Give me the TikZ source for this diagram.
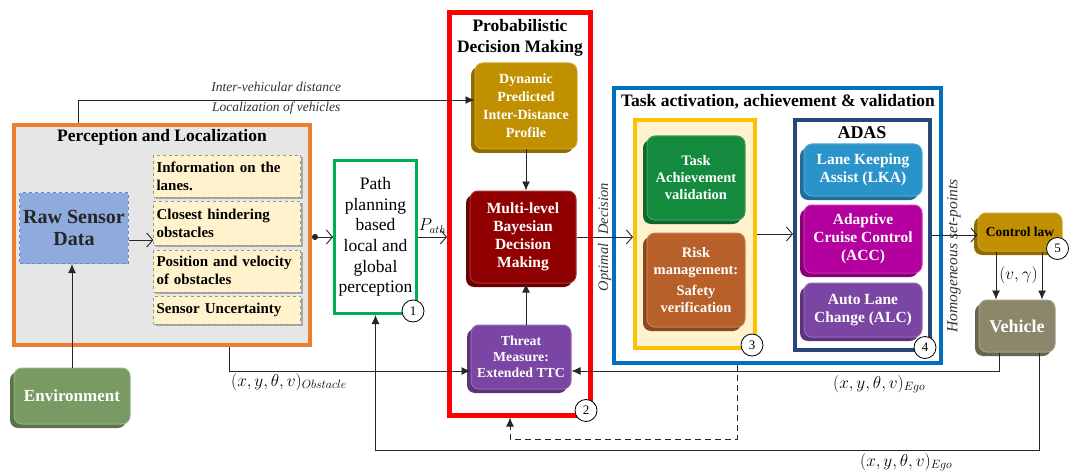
\documentclass[tikz,border=0pt]{standalone}
\usepackage{fontspec}
\setmainfont{Liberation Serif}
\usepackage{tikz}
\usetikzlibrary{arrows, arrows.meta, positioning, shadows, calc}

\definecolor{percorange}{HTML}{ED7D31}
\definecolor{percgray}{HTML}{E6E6E6}
\definecolor{rawblue}{HTML}{8FAADC}
\definecolor{rawedge}{HTML}{5B8BD0}
\definecolor{itemyellow}{HTML}{FFF2CC}
\definecolor{itemedge}{HTML}{9C9A7A}
\definecolor{pathgreen}{HTML}{00B050}
\definecolor{dyngold}{HTML}{C09000}
\definecolor{multired}{HTML}{900000}
\definecolor{threatpurple}{HTML}{7B45A3}
\definecolor{bluebox}{HTML}{0070C0}
\definecolor{taskyellow}{HTML}{FFC000}
\definecolor{taskgreen}{HTML}{138A3E}
\definecolor{riskbrown}{HTML}{B8602A}
\definecolor{adasblue}{HTML}{27477A}
\definecolor{lkablue}{HTML}{2A93C9}
\definecolor{accmag}{HTML}{B4009E}
\definecolor{vehkhaki}{HTML}{8C876A}
\definecolor{envgreen}{HTML}{7A9A64}
\definecolor{linegray}{HTML}{262626}

\tikzstyle{panel} = [rectangle, draw, line width=4pt]
\tikzstyle{infobox} = [rectangle, draw=itemedge, dashed, fill=itemyellow, text width=141pt, align=left, inner sep=3pt, font=\bfseries\fontsize{15}{18}\selectfont, drop shadow={shadow xshift=2pt, shadow yshift=-2pt, opacity=0.6}]
\tikzstyle{arrow} = [draw=linegray, -{Latex[length=9pt, width=8pt]}, line width=0.9pt]
\tikzstyle{openarrow} = [draw=linegray, -{Straight Barb[length=6pt, width=14pt]}, line width=0.9pt]
\tikzstyle{num} = [circle, draw, fill=white, line width=0.8pt, minimum size=22pt, inner sep=0pt, font=\fontsize{13}{13}\selectfont]
\tikzstyle{lbl} = [font=\itshape\fontsize{13.5}{16}\selectfont, text=black!80, inner sep=1pt]
\tikzstyle{mathlbl} = [font=\fontsize{18}{20}\selectfont, inner sep=1pt]
\tikzstyle{title} = [font=\bfseries\fontsize{17.5}{20.7}\selectfont, align=center]
\tikzset{cube/.style={rectangle, rounded corners=8pt, fill=#1, draw=#1!80!white, line width=1pt, text=white, align=center, inner sep=2pt, drop shadow={shadow xshift=-4pt, shadow yshift=-4pt, opacity=1, fill=#1!75!black}}}

\begin{document}
\begin{tikzpicture}[x=1pt, y=-1pt]
\useasboundingbox (0,0) rectangle (1071,476);
% Frames
\node[panel, draw=percorange, fill=percgray, minimum width=296pt, minimum height=220pt] (percep) at (162,235) {};
\node[title] (perctitle) at (162,137) {Perception and Localization};
\node[panel, draw=pathgreen, line width=3pt, fill=white, minimum width=82pt, minimum height=153pt, align=center, font=\fontsize{17.5}{20.7}\selectfont, inner sep=1pt] (path) at (375.5,237) {Path\\planning\\based\\local and\\global\\perception};
\node[panel, draw=red, line width=5pt, minimum width=141pt, minimum height=402pt] (pdm) at (520,214) {};
\node[title] (pdmtitle) at (520,38) {Probabilistic\\Decision Making};
\node[panel, draw=bluebox, minimum width=327pt, minimum height=275pt] (blue) at (777.5,225.5) {};
\node[title] (bluetitle) at (778,102) {Task activation, achievement \& validation};
\node[panel, draw=taskyellow, fill=itemyellow, minimum width=120pt, minimum height=228pt] (tframe) at (695,234) {};
\node[panel, draw=adasblue, fill=white, minimum width=135pt, minimum height=229pt] (adas) at (862.5,235) {};
\node[title, font=\bfseries\fontsize{18}{20}\selectfont] (adastitle) at (862,133) {ADAS};

% Perception contents
\node[rectangle, fill=rawblue, draw=rawedge, dashed, line width=1pt, minimum width=108pt, minimum height=71pt, align=center, font=\bfseries\fontsize{20}{22}\selectfont, text=black!85] (raw) at (74,228) {Raw Sensor\\Data};
\node[infobox, minimum height=42pt] (lane) at (227,176) {Information on the\\lanes.};
\node[infobox, minimum height=44pt, below=4pt of lane] (closest) {Closest hindering\\obstacles};
\node[infobox, minimum height=42pt, below=4pt of closest] (posvel) {Position and velocity\\of obstacles};
\node[infobox, minimum height=28pt, below=4pt of posvel] (uncert) {Sensor Uncertainty};

% Decision blocks
\node[cube=dyngold, minimum width=102pt, minimum height=86pt, font=\bfseries\fontsize{14}{18}\selectfont] (dyn) at (526,106) {Dynamic\\Predicted\\Inter-Distance\\Profile};
\node[cube=multired, minimum width=106pt, minimum height=92pt, font=\bfseries\fontsize{15.5}{18}\selectfont] (multi) at (523,237) {Multi-level\\Bayesian\\Decision\\Making};
\node[cube=threatpurple, minimum width=100pt, minimum height=64pt, font=\bfseries\fontsize{13.8}{16}\selectfont] (threat) at (521,357) {Threat\\Measure:\\Extended TTC};

% Task blocks
\node[cube=taskgreen, minimum width=98pt, minimum height=84pt, font=\bfseries\fontsize{14.5}{17}\selectfont] (tav) at (696,178) {Task\\Achievement\\validation};
\node[cube=riskbrown, minimum width=98pt, minimum height=94pt, font=\bfseries\fontsize{14.5}{17}\selectfont] (risk) at (696,280) {Risk\\management:\\[4pt]Safety\\verification};
\node[cube=lkablue, minimum width=118pt, minimum height=52pt, font=\bfseries\fontsize{15.5}{18}\selectfont] (lka) at (863,170) {Lane Keeping\\Assist (LKA)};
\node[cube=accmag, minimum width=118pt, minimum height=68pt, font=\bfseries\fontsize{15.5}{18}\selectfont] (acc) at (863,239) {Adaptive\\Cruise Control\\(ACC)};
\node[cube=threatpurple, minimum width=118pt, minimum height=54pt, font=\bfseries\fontsize{15.5}{18}\selectfont] (alc) at (863,310) {Auto Lane\\Change (ALC)};

% Vehicle side
\node[cube=dyngold, text=black, minimum width=84pt, minimum height=38pt, font=\bfseries\fontsize{13.5}{16}\selectfont] (ctrl) at (1020,232) {Control law};
\node[cube=vehkhaki, minimum width=76pt, minimum height=52pt, font=\bfseries\fontsize{18}{20}\selectfont] (veh) at (1017,326) {Vehicle};
\node[cube=envgreen, minimum width=116pt, minimum height=56pt, font=\bfseries\fontsize{17}{20}\selectfont] (env) at (72,396) {Environment};

% Numbers
\node[num] (n1) at ([xshift=-5pt, yshift=4pt]path.south east) {1};
\node[num] (n2) at ([xshift=-7pt, yshift=7pt]pdm.south east) {2};
\node[num] (n3) at ([xshift=-5pt, yshift=5pt]tframe.south east) {3};
\node[num] (n4) at ([xshift=-7pt, yshift=4pt]adas.south east) {4};
\node[num] (n5) at ([xshift=-5pt, yshift=3pt]ctrl.south east) {5};

% Edges
\draw[arrow] ([xshift=66pt]percep.north west) |- node[lbl, pos=0.75, above=7pt]{Inter-vehicular distance} node[lbl, pos=0.75, below=1pt]{Localization of vehicles} ([yshift=6pt]dyn.west);
\draw[openarrow] ([yshift=-12pt]raw.east) -- ([yshift=-12pt]raw.east -| closest.west);
\draw[openarrow, {Circle[length=6pt]}-{Straight Barb[length=6pt, width=14pt]}] (percep.east |- path.west) -- (path.west);
\draw[openarrow] (path.east) -- node[above, font=\fontsize{16}{16}\selectfont]{$P_{ath}$} (path.east -| pdm.west);
\draw[arrow] (dyn.south) -- (dyn.south |- multi.north);
\draw[arrow] (threat.north -| dyn.south) -- (dyn.south |- multi.south);
\draw[openarrow] (multi.east) -- node[lbl, rotate=90, font=\itshape\fontsize{14.5}{16}\selectfont]{Optimal\hspace{9pt}Decision} (multi.east -| tframe.west);
\draw[openarrow] (tframe.east) -- (tframe.east -| adas.west);
\draw[openarrow] (adas.east) -- (adas.east -| ctrl.west);
\node[lbl, rotate=90, font=\itshape\fontsize{15.5}{18}\selectfont] (setpts) at (954,256) {Homogeneous set-points};
\draw[arrow] ([xshift=-24pt]ctrl.south) -- ([xshift=-24pt]ctrl.south |- veh.north);
\draw[arrow] ([xshift=22pt]ctrl.south) -- ([xshift=22pt]ctrl.south |- veh.north);
\node[mathlbl, font=\fontsize{16}{16}\selectfont] (vg) at ($(ctrl.south)!0.5!(veh.north)$) {$(v,\gamma)$};
\draw[arrow] ([xshift=-18pt]veh.south) |- node[mathlbl, pos=0.64, below=3pt]{$(x,y,\theta,v)_{Ego}$} ([yshift=-14pt]threat.east);
\coordinate (fb) at (path.south |- 0,450);
\draw[arrow] ([xshift=22pt]veh.south) |- node[mathlbl, pos=0.6, below=2pt]{$(x,y,\theta,v)_{Ego}$} (fb) -- (path.south);
\coordinate (dA) at (737,439);
\coordinate (dB) at (510,439);
\draw[arrow, dash pattern=on 6pt off 4pt] (blue.south -| dA) -- (dA) -- (dB) -- (dB |- pdm.south);
\draw[arrow] ([xshift=67pt]percep.south) |- node[mathlbl, pos=0.5, below right=1pt]{$(x,y,\theta,v)_{Obstacle}$} ([yshift=-14pt]threat.west);
\draw[arrow] (env.north) -- (env.north |- raw.south);
\end{tikzpicture}
\end{document}
